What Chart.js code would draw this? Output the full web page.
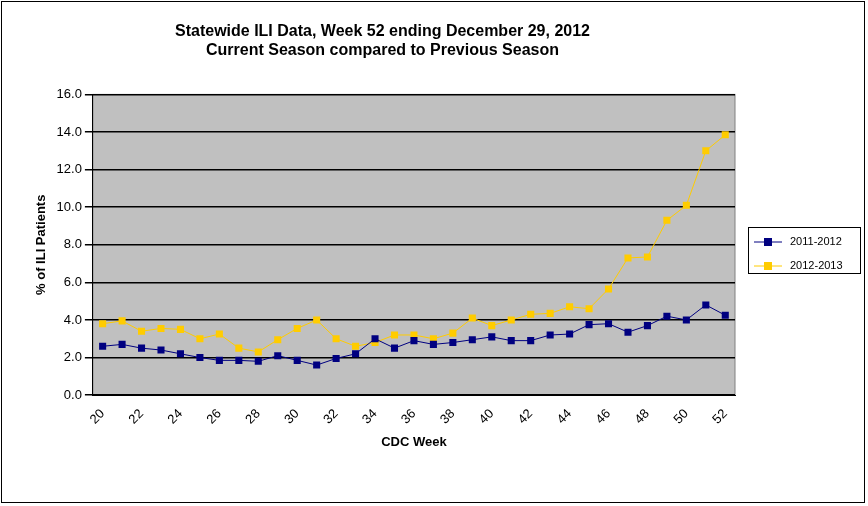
<!DOCTYPE html>
<html><head><script src="https://cdn.jsdelivr.net/npm/chart.js@4"></script>
<style>body{margin:0;background:#fff}#w{position:absolute;left:1px;top:1px;width:864px;height:502px;border:1px solid #000;box-sizing:border-box}</style></head>
<body><div id="w"><canvas id="c"></canvas></div>
<script>
const weeks=[20,21,22,23,24,25,26,27,28,29,30,31,32,33,34,35,36,37,38,39,40,41,42,43,44,45,46,47,48,49,50,51,52];
const s2011=[2.6,2.7,2.5,2.4,2.2,2.0,1.85,1.85,1.8,2.1,1.85,1.6,1.95,2.2,3.0,2.5,2.9,2.7,2.8,2.95,3.1,2.9,2.9,3.2,3.25,3.75,3.8,3.35,3.7,4.2,4.0,4.8,4.25];
const s2012=[3.8,3.95,3.4,3.55,3.5,3.0,3.25,2.5,2.3,2.95,3.55,4.0,3.0,2.6,2.8,3.2,3.2,3.0,3.3,4.1,3.7,4.0,4.3,4.35,4.7,4.6,5.65,7.3,7.35,9.3,10.1,13.0,13.85];
const F='Liberation Sans';
const bg={id:'bg',beforeDraw(c){const a=c.chartArea,x=c.ctx;x.save();x.fillStyle='#c0c0c0';x.fillRect(a.left,a.top,a.right-a.left,a.bottom-a.top);x.strokeStyle='#808080';x.strokeRect(a.left,a.top,a.right-a.left,a.bottom-a.top);x.restore();},
afterDraw(c){const x=c.ctx;x.save();x.strokeStyle='#000';x.lineWidth=1;x.strokeRect(746.5,225.5,112,46);
c.data.datasets.forEach((d,i)=>{const y=240+i*24;x.strokeStyle=d.borderColor;x.beginPath();x.moveTo(752,y);x.lineTo(780,y);x.stroke();x.fillStyle=d.backgroundColor;x.fillRect(762,y-4,8,8);x.fillStyle='#000';x.font='11px '+F;x.textBaseline='middle';x.fillText(d.label,788,y);});x.restore();}};
new Chart(document.getElementById('c'),{type:'line',
data:{labels:weeks.map(String),datasets:[
{label:'2011-2012',data:s2011,borderColor:'#000080',backgroundColor:'#000080',borderWidth:1,pointStyle:'rect',pointRadius:5,pointBorderWidth:0},
{label:'2012-2013',data:s2012,borderColor:'#ffcc00',backgroundColor:'#ffcc00',borderWidth:1,pointStyle:'rect',pointRadius:5,pointBorderWidth:0}]},
options:{responsive:true,maintainAspectRatio:false,animation:false,
layout:{padding:{left:28,right:129,top:8,bottom:48}},
plugins:{title:{display:true,text:['Statewide ILI Data, Week 52 ending December 29, 2012','Current Season compared to Previous Season'],font:{family:F,size:16,weight:'bold'},color:'#000',padding:{top:12,bottom:34},lineHeight:1.6},
legend:{display:false},tooltip:{enabled:false}},
scales:{x:{offset:true,grid:{display:false},border:{color:'#000'},ticks:{color:'#000',font:{family:F,size:13},maxRotation:45,minRotation:45,autoSkip:false,callback:(v,i)=>weeks[i]%2===0?weeks[i]:''},title:{display:true,text:'CDC Week',font:{family:F,size:13,weight:'bold'},color:'#000'}},
y:{min:0,max:16,grid:{color:'#000',lineWidth:1.5},border:{color:'#000'},ticks:{stepSize:2,color:'#000',font:{family:F,size:13},callback:v=>v.toFixed(1)},title:{display:true,text:'% of ILI Patients',font:{family:F,size:13,weight:'bold'},color:'#000'}}}},
plugins:[bg]});
</script></body></html>
